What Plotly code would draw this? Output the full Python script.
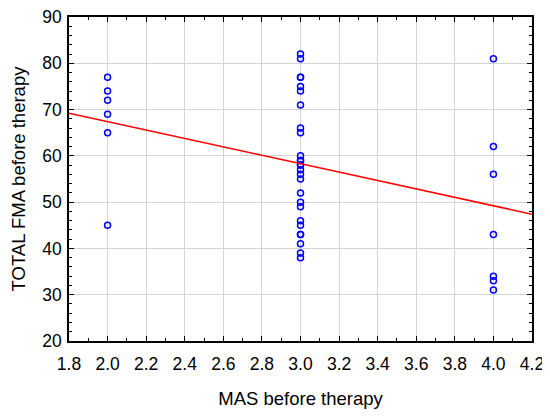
import plotly.graph_objects as go

# MAS before therapy groups and TOTAL FMA scores
mas_2 = [77, 74, 72, 69, 65, 45]
mas_3 = [82, 81, 77, 77, 75, 74, 71, 66, 65, 60, 59, 59, 58, 58, 57, 56, 55, 52,
         50, 49, 46, 45, 43, 43, 41, 39, 38]
mas_4 = [81, 62, 56, 43, 34, 33, 31]

# fitted regression line, read at the axis edges
fit_x = [1.8, 4.2]
fit_y = [69.2, 47.4]

x_ticks = [1.8, 2.0, 2.2, 2.4, 2.6, 2.8, 3.0, 3.2, 3.4, 3.6, 3.8, 4.0, 4.2]
y_ticks = [20, 30, 40, 50, 60, 70, 80, 90]

xs = [2.0] * len(mas_2) + [3.0] * len(mas_3) + [4.0] * len(mas_4)
ys = mas_2 + mas_3 + mas_4

FONT = "Liberation Sans, Arial"

fig = go.Figure()
fig.add_trace(go.Scatter(
    x=xs, y=ys, mode="markers",
    marker=dict(symbol="circle-open", size=6, color="#0000ff",
                line=dict(width=1.5, color="#0000ff")),
    showlegend=False,
))
fig.add_trace(go.Scatter(
    x=fit_x, y=fit_y, mode="lines",
    line=dict(color="#ff0000", width=1.5),
    showlegend=False,
))

axis_style = dict(
    showline=True, linecolor="black", linewidth=1.5, mirror="ticks",
    ticks="inside", ticklen=5, tickwidth=1, tickcolor="black",
    showgrid=True, gridcolor="#d4d4d4", gridwidth=1,
    zeroline=False, automargin=False, ticklabeloverflow="allow",
    tickfont=dict(family=FONT, size=17.5, color="black"),
)

fig.update_xaxes(
    range=[1.8, 4.2], tickvals=x_ticks,
    ticktext=[f"{v:.1f}" for v in x_ticks],
    ticklabelstandoff=6,
    minor=dict(ticks="inside", dtick=0.1, tick0=1.8, ticklen=3, showgrid=False),
    title=dict(text="MAS before therapy", standoff=19,
               font=dict(family=FONT, size=18.5, color="black")),
    **axis_style,
)
fig.update_yaxes(
    range=[20, 90], tickvals=y_ticks,
    ticklabelstandoff=2,
    minor=dict(ticks="inside", dtick=2, tick0=20, ticklen=3, showgrid=False),
    title=dict(text="TOTAL FMA before therapy", standoff=22,
               font=dict(family=FONT, size=18.5, color="black")),
    **axis_style,
)

# page body has an 8px margin, so the figure is sized to fill the rest
fig.update_layout(
    width=542, height=409,
    margin=dict(l=61, r=18, t=9, b=76),
    plot_bgcolor="white", paper_bgcolor="white",
)

fig.write_html("out.html")
